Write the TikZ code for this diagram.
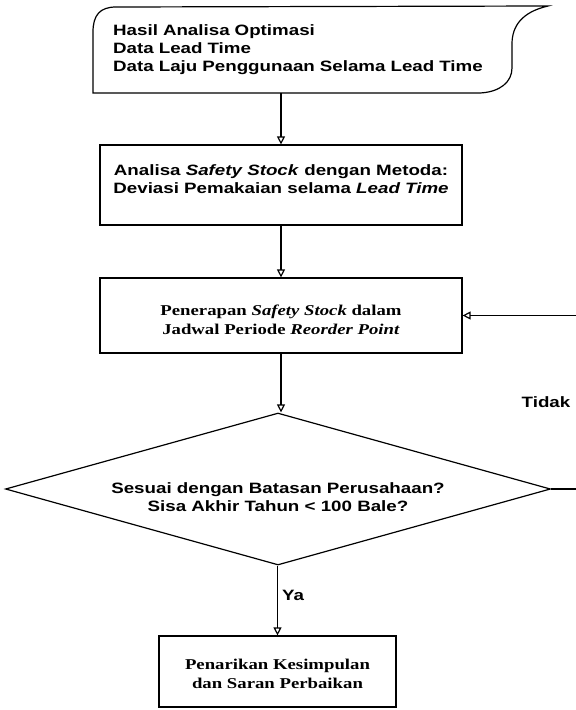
\documentclass[tikz,border=0pt]{standalone}
\usepackage{fontspec}
\setmainfont{Liberation Serif}[FakeStretch=1.25]
\setsansfont{Liberation Sans}[FakeStretch=1.25]
\usepackage{tikz}
\usetikzlibrary{shapes.geometric,arrows.meta}

\tikzset{
  kotak/.style={draw, line width=1.2pt, inner sep=0pt, align=center},
  panah/.style={line width=1.2pt, -{Triangle[open,length=8pt,width=8pt]}},
  huruf/.style={font=\fontsize{15}{18}\selectfont\sffamily\bfseries},
  hurufserif/.style={font=\fontsize{15}{19}\selectfont\rmfamily\bfseries}
}

\begin{document}
\begin{tikzpicture}[x=1pt, y=-1pt]
      \useasboundingbox (0,0) rectangle (576,710);

      % bentuk data masukan
      \draw[line width=1.2pt] (93,93) -- (93,32) .. controls (93,15) and (100,7) .. (116,7)
        -- (548,6) .. controls (522,12) and (512,26) .. (512,44) -- (512,68)
        .. controls (512,82) and (500,92) .. (480,93) -- cycle;
      \node[huruf, anchor=west, align=left, inner sep=0pt, text width=400pt, minimum height=86pt] (data) at (113,50)
        {Hasil Analisa Optimasi\\Data Lead Time\\Data Laju Penggunaan Selama Lead Time};

      \node[kotak, huruf, minimum width=362pt, minimum height=80pt] (ana) at (281,185)
        {Analisa \textit{Safety Stock} dengan Metoda:\\Deviasi Pemakaian selama \textit{Lead Time}\rule[-12pt]{0pt}{12pt}};
      \node[kotak, hurufserif, minimum width=362pt, minimum height=75pt] (pen) at (281,315.5)
        {\rule{0pt}{20pt}Penerapan \textit{Safety Stock} dalam\\Jadwal Periode \textit{Reorder Point}};
      \node[kotak, huruf, shape=diamond, aspect=3.6, minimum width=545pt, minimum height=152pt] (cek) at (278,489)
        {\rule{0pt}{27pt}Sesuai dengan Batasan Perusahaan?\\Sisa Akhir Tahun < 100 Bale?};
      \node[kotak, hurufserif, minimum width=237pt, minimum height=71pt] (simp) at (277.5,671.5)
        {\rule{0pt}{15pt}Penarikan Kesimpulan\\dan Saran Perbaikan};

      \draw[panah] (data.south -| ana.north) -- (ana.north);
      \draw[panah] (ana) -- (pen);
      \draw[panah] (pen.south) -- (pen.south |- cek.north);
      \draw[panah] (cek.south -| simp.north) -- (simp.north);
      \draw[panah] (cek.east) -- ++(40,0) |- (pen.east);

      \node[huruf] (tidak) at (546,402) {Tidak};
      \node[huruf] (ya) at (293,595) {Ya};
    \end{tikzpicture}
\end{document}
